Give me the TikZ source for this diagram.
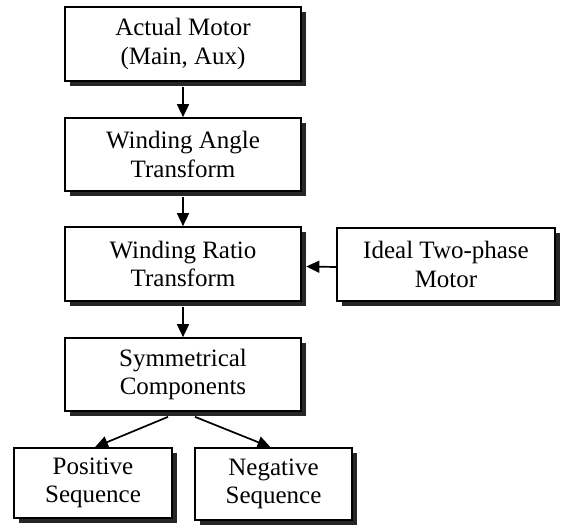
\documentclass[tikz,border=0pt]{standalone}
\usepackage{fontspec}
\setmainfont{Liberation Serif}
\usetikzlibrary{arrows.meta,shadows}
\begin{document}
\begin{tikzpicture}[x=1pt,y=-1pt,
  blk/.style={draw=black, line width=1.7pt, fill=white, align=center,
    inner sep=0pt, font=\fontsize{25}{28.5}\selectfont,
    drop shadow={shadow xshift=4.5pt, shadow yshift=-4.5pt, fill=black!85, opacity=1}},
  conn/.style={line width=1.7pt, -{Triangle[length=13pt,width=12pt]}}]
\useasboundingbox (0,0) rectangle (571,528);
\node[blk, minimum width=236pt, minimum height=74pt] (A) at (183,44) {Actual Motor\\(Main, Aux)};
\node[blk, minimum width=236pt, minimum height=73pt] (B) at (183,154.5) {Winding Angle\\Transform};
\node[blk, minimum width=236pt, minimum height=74pt] (C) at (183,264) {Winding Ratio\\Transform};
\node[blk, minimum width=218pt, minimum height=73pt] (D) at (446,264.5) {Ideal Two-phase\\Motor};
\node[blk, minimum width=236pt, minimum height=73pt] (E) at (183,374.5) {Symmetrical\\Components};
\node[blk, minimum width=158pt, minimum height=70pt] (F) at (93,483) {Positive\\Sequence};
\node[blk, minimum width=157pt, minimum height=72pt] (G) at (273.5,484) {Negative\\Sequence};
\draw[conn] ([yshift=-5pt]A.south) -- (B.north);
\draw[conn] ([yshift=-5pt]B.south) -- (C.north);
\draw[conn] ([yshift=-5pt]C.south) -- (E.north);
\draw[conn] ([yshift=-2.5pt]D.west) -- ([xshift=4.5pt,yshift=-2.5pt]C.east);
\draw[conn] ([xshift=-15pt,yshift=-5pt]E.south) -- ([xshift=2pt]F.north);
\draw[conn] ([xshift=12pt,yshift=-5pt]E.south) -- ([xshift=-3pt]G.north);
\end{tikzpicture}
\end{document}
